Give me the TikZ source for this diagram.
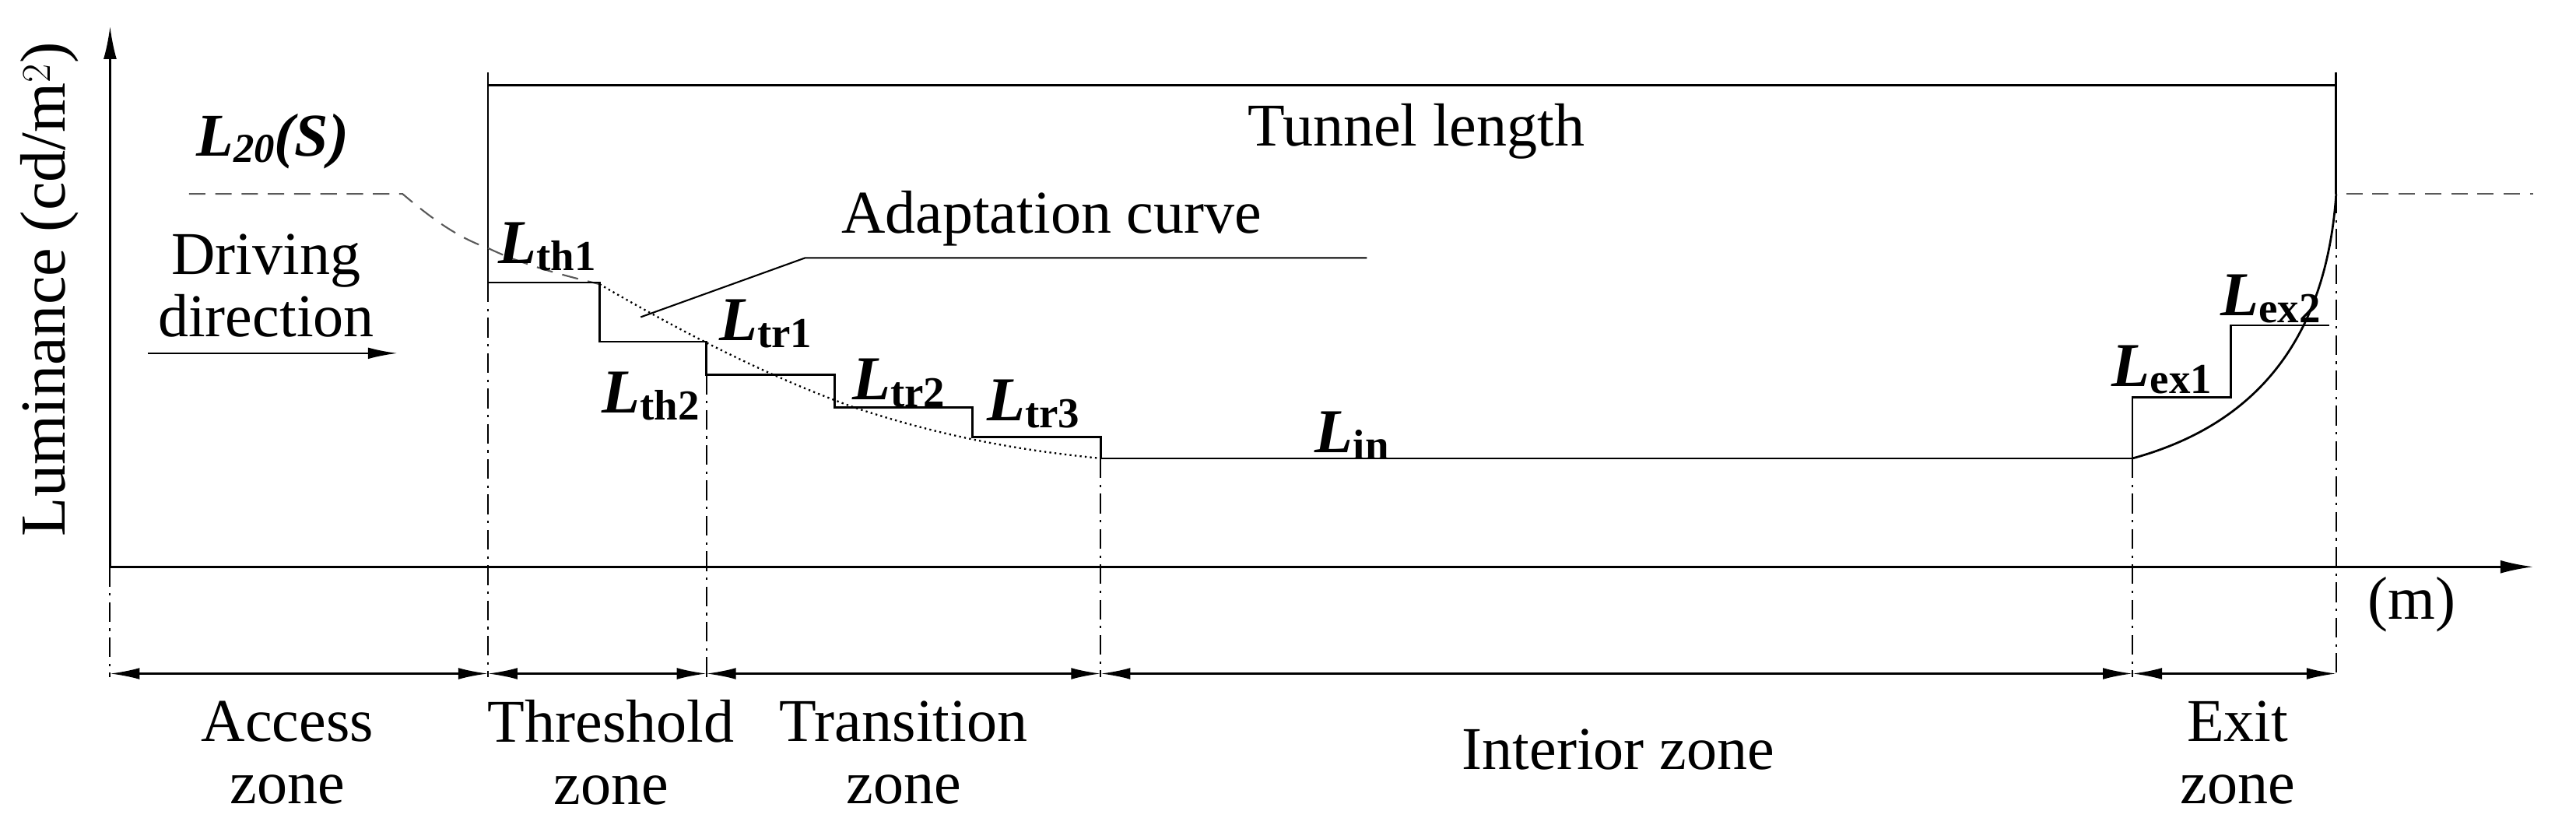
\documentclass[tikz,border=0pt]{standalone}
\usepackage{fontspec}
\setmainfont{Liberation Serif}
\usetikzlibrary{arrows.meta}
\newcommand{\Lab}[1]{{\fontsize{38}{42}\selectfont\bfseries\itshape L}{\fontsize{26}{30}\selectfont\bfseries\raisebox{-0.35ex}{#1}}}
\begin{document}
\begin{tikzpicture}[x=1pt,y=-1pt,line width=1.3pt,
  txt/.style={font=\fontsize{37}{38}\selectfont,inner sep=0pt,align=center},
  dd/.style={dash pattern=on 12pt off 4pt on 1.5pt off 4pt,line width=1pt},
  dimarr/.style={{Latex[length=18pt,width=7pt]}-{Latex[length=18pt,width=7pt]},line width=1.2pt},
  ax/.style={-{Latex[length=20pt,width=8pt]},line width=1.3pt}]
\useasboundingbox (0,0) rectangle (1568,502);
% axes
\coordinate (O) at (67,345);
\coordinate (ytop) at (67,16);
\coordinate (xend) at (1542,345);
\draw[ax] (O) -- (ytop);
\draw[ax] (O) -- (xend);
\node[txt,font=\fontsize{39}{40}\selectfont,rotate=90] (ylab) at (30,176) {Luminance (cd/m$^2$)};
\node[txt] (m) at (1468,368) {(m)};
% tunnel length
\coordinate (tl1) at (297,44); \coordinate (tl2) at (1422,44);
\coordinate (tla) at (297,52); \coordinate (tlb) at (1422,52);
\draw (tl1) -- (297,172);
\draw (tl2) -- (1422,118);
\draw (tla) -- (tlb);
\node[txt] (tunnel) at (862,80) {Tunnel length};
% L20
\node[inner sep=0pt] (l20) at (166,86) {{\fontsize{37}{40}\selectfont\bfseries\itshape L}{\fontsize{25}{28}\selectfont\bfseries\itshape\raisebox{-0.35ex}{20}}{\fontsize{37}{40}\selectfont\bfseries\itshape (S)}};
\draw[dashed,dash pattern=on 10pt off 6pt,line width=1pt,gray!70!black] (115,118) -- (245,118) .. controls (265,135) and (280,145) .. (297,151) .. controls (320,162) and (345,168) .. (365,173);
\draw[dotted,line width=1.1pt] (365,173) .. controls (420,205) and (470,230) .. (520,248) .. controls (580,268) and (630,275) .. (670,279);
\draw[dashed,dash pattern=on 10pt off 6pt,line width=1pt,gray!70!black] (1428,118) -- (1542,118);
% driving direction
\node[txt] (drive) at (162,174) {Driving\\direction};
\coordinate (da) at (90,215); \coordinate (db) at (242,215);
\draw[-{Latex[length=18pt,width=7pt]},line width=1.2pt] (da) -- (db);
% steps
\draw (297,172) -- (365,172) -- (365,208) -- (430,208) -- (430,228) -- (508,228) -- (508,248) -- (592,248) -- (592,266) -- (670,266) -- (670,279) -- (1298,279) -- (1298,242) -- (1358,242) -- (1358,198) -- (1418,198);
\draw (1298,279) .. controls (1360,262) and (1415,220) .. (1422,118);
% adaptation leader
\coordinate (ad0) at (390,193); \coordinate (ad1) at (490,157); \coordinate (ad2) at (832,157);
\draw[line width=1pt] (ad0) -- (ad1) -- (ad2);
\node[txt] (adapt) at (640,133) {Adaptation curve};
% labels
\node[inner sep=0pt] (lth1) at (333,150) {\Lab{th1}};
\node[inner sep=0pt] (lth2) at (396,241) {\Lab{th2}};
\node[inner sep=0pt] (ltr1) at (466,197) {\Lab{tr1}};
\node[inner sep=0pt] (ltr2) at (547,233) {\Lab{tr2}};
\node[inner sep=0pt] (ltr3) at (629,246) {\Lab{tr3}};
\node[inner sep=0pt] (lin) at (823,265) {\Lab{in}};
\node[inner sep=0pt] (lex1) at (1316,225) {\Lab{ex1}};
\node[inner sep=0pt] (lex2) at (1382,182) {\Lab{ex2}};
% dash-dot verticals
\foreach \x/\t in {67/345,297/172,430/228,670/279,1298/279,1422/118}
  \draw[dd] (\x,\t) -- (\x,412);
% dimension arrows
\foreach \a/\b in {67/297,297/430,430/670,670/1298,1298/1422}
  \draw[dimarr] (\a,410) -- (\b,410);
\node[txt] (z1) at (175,458) {Access\\zone};
\node[txt] (z2) at (372,458) {Threshold\\zone};
\node[txt] (z3) at (550,458) {Transition\\zone};
\node[txt] (z4) at (985,456) {Interior zone};
\node[txt] (z5) at (1362,458) {Exit\\zone};
\end{tikzpicture}
\end{document}
